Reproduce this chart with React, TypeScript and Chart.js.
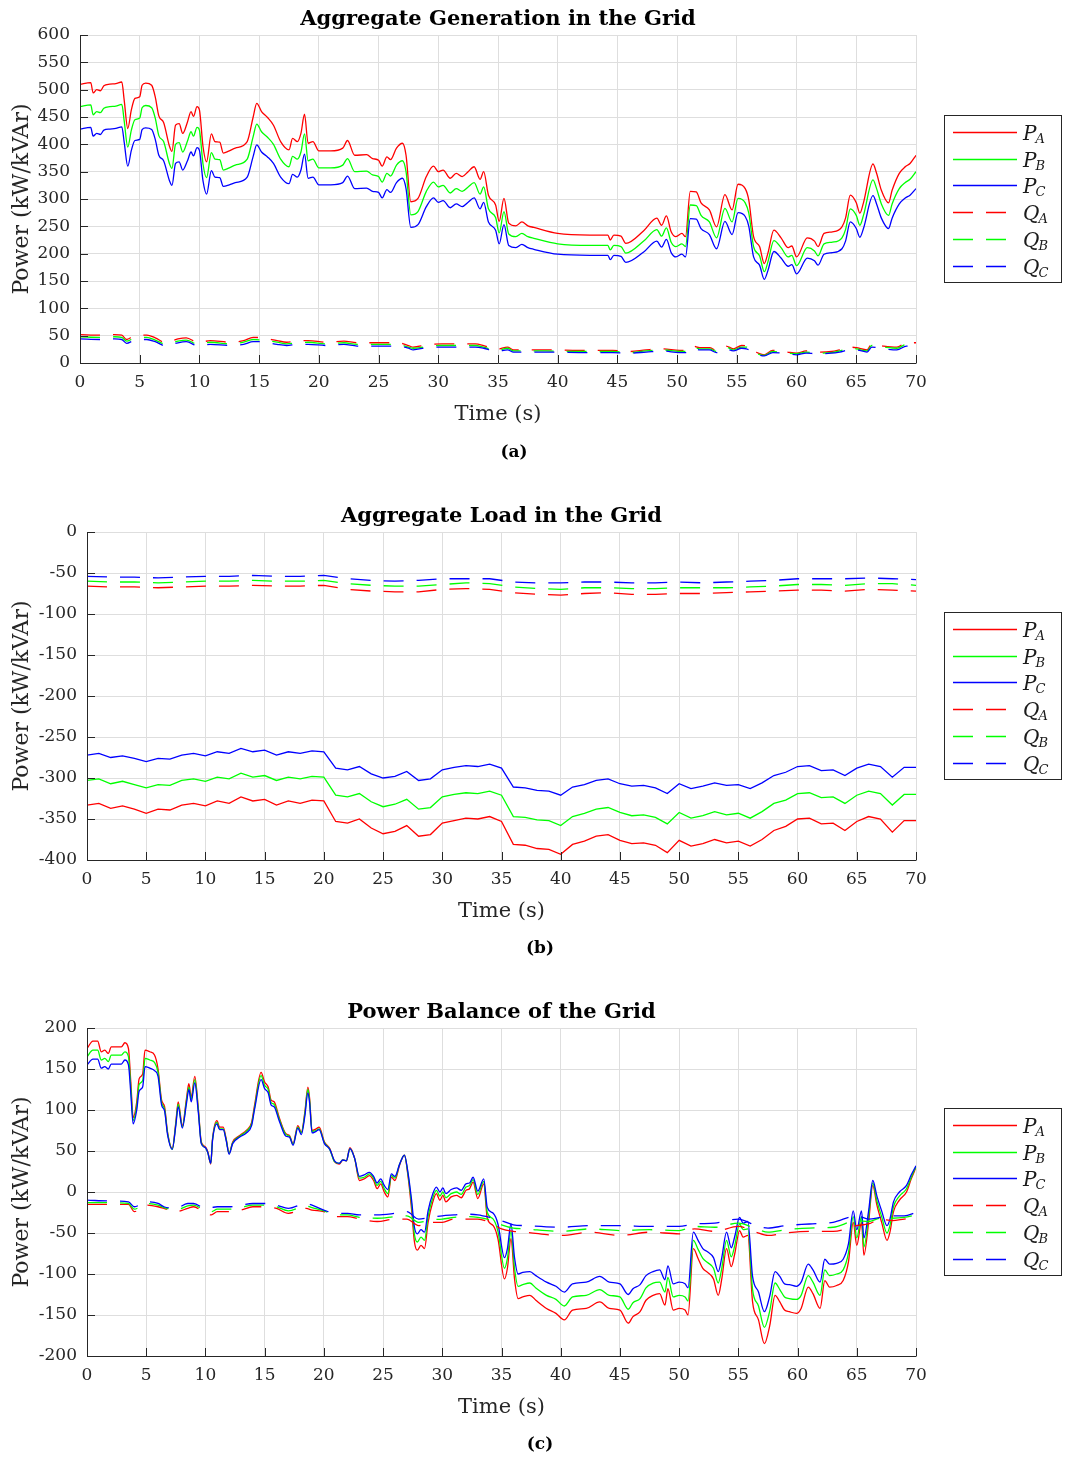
import React, { useEffect, useRef } from "react";
import { Chart, registerables } from "chart.js";

Chart.register(...registerables);

const FONT = "'DejaVu Serif', serif";
const RED = "#ff0000";
const GREEN = "#00ff00";
const BLUE = "#0000ff";

// ---------------- (a) Aggregate Generation ----------------
const genPTime = [
  0, 0.9, 1.1, 1.4, 1.7, 2, 2.5, 3, 3.5, 3.7,
  4.0, 4.3, 4.6, 5, 5.2, 5.5, 6, 6.3, 6.6, 7,
  7.5, 7.7, 8, 8.3, 8.6, 9, 9.3, 9.5, 9.8, 10,
  10.3, 10.6, 11, 11.3, 11.7, 12, 12.5, 13, 14, 14.5,
  14.8, 15.2, 15.7, 16.2, 16.8, 17.5, 17.8, 18.2, 18.5, 18.8,
  19.1, 19.5, 20, 21, 22, 22.4, 23, 24, 24.5, 25,
  25.3, 25.7, 26, 26.5, 27, 27.3, 27.7, 28.3, 29, 29.6,
  30, 30.4, 31, 31.5, 32, 32.5, 33, 33.5, 33.8, 34.2,
  34.8, 35.1, 35.5, 35.9, 36.5, 37, 37.5, 38, 40, 42.7,
  44.2, 44.4, 44.7, 45.3, 45.7, 47.2, 48.3, 48.7, 49.1, 49.5,
  49.9, 50.4, 50.7, 51.1, 51.6, 52, 52.7, 53.3, 54, 54.6,
  55.1, 55.7, 56, 56.4, 56.9, 57.3, 57.6, 58.1, 58.7, 59.3,
  59.6, 60, 60.9, 61.5, 61.8, 62.3, 63, 63.8, 64.1, 64.5,
  65, 65.3, 65.6, 66.4, 66.7, 67.1, 67.7, 68, 68.6, 69.1,
  69.5, 70,
];
const genPA = [
  510, 513, 494, 500, 498, 507, 510, 511, 514, 481,
  429, 463, 484, 487, 508, 512, 508, 487, 452, 440,
  396, 387, 435, 438, 420, 441, 460, 451, 469, 463,
  396, 368, 419, 405, 404, 384, 388, 393, 405, 450,
  475, 460, 449, 435, 405, 390, 411, 405, 420, 455,
  402, 405, 388, 388, 393, 407, 380, 381, 374, 371,
  360, 377, 372, 393, 402, 380, 295, 301, 341, 360,
  350, 353, 338, 347, 341, 350, 359, 336, 350, 307,
  289, 259, 301, 256, 251, 258, 251, 248, 237, 234,
  234, 225, 234, 232, 219, 242, 265, 252, 269, 240,
  231, 237, 231, 314, 313, 293, 280, 249, 308, 280,
  327, 319, 298, 231, 213, 182, 201, 243, 229, 211,
  214, 194, 229, 223, 213, 237, 240, 249, 265, 307,
  293, 274, 293, 364, 347, 316, 293, 316, 347, 359,
  365, 380,
];
const genPB = [
  469, 472, 454, 460, 458, 466, 469, 470, 473, 443,
  395, 426, 445, 448, 467, 471, 467, 448, 416, 405,
  364, 356, 400, 403, 386, 406, 423, 415, 431, 426,
  364, 339, 385, 373, 372, 353, 357, 362, 373, 414,
  437, 423, 413, 400, 373, 359, 378, 373, 386, 419,
  370, 373, 357, 357, 362, 374, 350, 351, 344, 341,
  331, 347, 342, 362, 370, 350, 271, 277, 314, 331,
  322, 325, 311, 319, 314, 322, 330, 309, 322, 282,
  266, 238, 277, 236, 231, 237, 231, 228, 218, 215,
  215, 207, 215, 213, 201, 223, 244, 232, 247, 221,
  213, 218, 213, 289, 288, 270, 258, 229, 283, 258,
  301, 293, 274, 213, 196, 167, 185, 224, 211, 194,
  197, 178, 211, 205, 196, 218, 221, 229, 244, 282,
  270, 252, 270, 335, 319, 291, 270, 291, 319, 330,
  336, 350,
];
const genPC = [
  428, 431, 415, 420, 418, 426, 428, 429, 432, 404,
  360, 389, 407, 409, 427, 430, 427, 409, 380, 370,
  333, 325, 365, 368, 353, 370, 386, 379, 394, 389,
  333, 309, 352, 340, 339, 323, 326, 330, 340, 378,
  399, 386, 377, 365, 340, 328, 345, 340, 353, 382,
  338, 340, 326, 326, 330, 342, 319, 320, 314, 312,
  302, 317, 312, 330, 338, 319, 248, 253, 286, 302,
  294, 297, 284, 291, 286, 294, 302, 282, 294, 258,
  243, 218, 253, 215, 211, 217, 211, 208, 199, 197,
  197, 189, 197, 195, 184, 203, 223, 212, 226, 202,
  194, 199, 194, 264, 263, 246, 235, 209, 259, 235,
  275, 268, 250, 194, 179, 153, 169, 204, 192, 177,
  180, 163, 192, 187, 179, 199, 202, 209, 223, 258,
  246, 230, 246, 306, 291, 265, 246, 265, 291, 302,
  307, 319,
];
const genQTime = [
  0, 1.7, 2.9, 3.5, 3.9, 4.5, 5.6, 6.3, 7.2, 8.2,
  8.9, 9.9, 10.9, 12.6, 13.7, 14.5, 15.2, 16.5, 17.3, 18.2,
  19.1, 20.7, 22.1, 23.2, 24.9, 26, 26.5, 27.5, 27.9, 29,
  30.3, 31.8, 33.1, 33.8, 34.9, 35.8, 36.3, 39, 41.8, 44.6,
  46, 47.4, 48.8, 50.2, 50.8, 51.3, 51.9, 52.7, 53.3, 54.1,
  54.7, 55.4, 55.8, 56.6, 57.3, 58, 59.2, 60, 60.8, 61.7,
  62.9, 63.6, 64.5, 65, 65.9, 66.3, 67.3, 68.4, 69.2, 70,
];
const genQA = [
  52, 51, 52, 51, 43, 49, 51, 46, 37, 44,
  46, 37, 41, 38, 41, 47, 46, 41, 38, 40,
  41, 38, 40, 37, 37, 37, 38, 32, 29, 33,
  35, 35, 35, 32, 25, 29, 24, 24, 23, 23,
  21, 24, 26, 23, 23, 31, 28, 28, 23, 31,
  26, 32, 31, 20, 15, 23, 20, 18, 22, 20,
  21, 24, 29, 28, 24, 35, 31, 29, 37, 37,
];
const genQB = [
  48, 47, 48, 47, 40, 45, 47, 42, 34, 40,
  42, 34, 38, 35, 38, 43, 42, 38, 35, 37,
  38, 35, 37, 34, 34, 34, 35, 29, 27, 30,
  32, 32, 32, 29, 23, 27, 22, 22, 21, 21,
  19, 22, 24, 21, 21, 29, 26, 26, 21, 29,
  24, 29, 29, 18, 14, 21, 18, 17, 20, 18,
  19, 22, 27, 26, 22, 32, 29, 27, 34, 34,
];
const genQC = [
  44, 43, 44, 43, 36, 41, 43, 39, 31, 37,
  39, 31, 34, 32, 34, 39, 39, 34, 32, 34,
  34, 32, 34, 31, 31, 31, 32, 27, 24, 28,
  29, 29, 29, 27, 21, 24, 20, 20, 19, 19,
  18, 20, 22, 19, 19, 26, 24, 24, 19, 26,
  22, 27, 26, 17, 13, 19, 17, 15, 18, 17,
  18, 20, 24, 24, 20, 29, 26, 24, 31, 31,
];

// ---------------- (b) Aggregate Load ----------------
const loadPTime = [
  0, 1, 2, 3, 4, 5, 6, 7, 8, 9,
  10, 11, 12, 13, 14, 15, 16, 17, 18, 19,
  20, 21, 22, 23, 24, 25, 26, 27, 28, 29,
  30, 31, 32, 33, 34, 35, 36, 37, 38, 39,
  40, 41, 42, 43, 44, 45, 46, 47, 48, 49,
  50, 51, 52, 53, 54, 55, 56, 57, 58, 59,
  60, 61, 62, 63, 64, 65, 66, 67, 68, 69,
  70,
];
const loadPA = [
  -333, -331, -337, -334, -338, -343, -338, -339, -333, -331,
  -334, -328, -331, -323, -328, -326, -333, -328, -331, -327,
  -328, -353, -355, -350, -361, -368, -365, -358, -371, -369,
  -355, -352, -349, -350, -347, -353, -381, -382, -386, -387,
  -393, -381, -377, -371, -369, -376, -380, -379, -382, -391,
  -376, -383, -380, -375, -379, -377, -383, -375, -364, -359,
  -350, -349, -356, -355, -364, -353, -347, -350, -366, -352,
  -352,
];
const loadPB = [
  -303, -301, -307, -304, -308, -312, -308, -309, -303, -301,
  -304, -299, -301, -294, -299, -297, -303, -299, -301, -298,
  -299, -321, -323, -319, -329, -335, -332, -326, -338, -336,
  -323, -320, -318, -319, -316, -321, -347, -348, -351, -352,
  -358, -347, -343, -338, -336, -342, -346, -345, -348, -356,
  -342, -349, -346, -341, -345, -343, -349, -341, -331, -327,
  -319, -318, -324, -323, -331, -321, -316, -319, -333, -320,
  -320,
];
const loadPC = [
  -272, -270, -275, -273, -276, -280, -276, -277, -272, -270,
  -273, -268, -270, -264, -268, -266, -272, -268, -270, -267,
  -268, -288, -290, -286, -295, -300, -298, -292, -303, -301,
  -290, -287, -285, -286, -283, -288, -311, -312, -315, -316,
  -321, -311, -308, -303, -301, -307, -310, -309, -312, -319,
  -307, -313, -310, -306, -309, -308, -313, -306, -297, -293,
  -286, -285, -291, -290, -297, -288, -283, -286, -299, -287,
  -287,
];
const loadQTime = [
  0, 2, 4, 6, 8, 10, 12, 14, 16, 18,
  20, 22, 24, 26, 28, 30, 32, 34, 36, 38,
  40, 42, 44, 46, 48, 50, 52, 54, 56, 58,
  60, 62, 64, 66, 68, 70,
];
const loadQA = [
  -66, -67, -67, -68, -67, -66, -66, -65, -66, -66,
  -65, -70, -72, -73, -73, -70, -69, -70, -74, -76,
  -77, -75, -74, -76, -76, -75, -75, -74, -73, -72,
  -71, -71, -72, -70, -71, -72,
];
const loadQB = [
  -60, -61, -61, -62, -61, -60, -60, -59, -60, -60,
  -59, -63, -65, -66, -66, -64, -62, -63, -67, -69,
  -70, -68, -68, -69, -69, -68, -68, -68, -67, -66,
  -64, -64, -65, -63, -63, -65,
];
const loadQC = [
  -54, -55, -55, -56, -55, -54, -54, -53, -54, -54,
  -53, -57, -59, -60, -59, -57, -57, -57, -61, -62,
  -62, -61, -61, -62, -62, -61, -62, -61, -60, -59,
  -57, -57, -57, -56, -57, -58,
];

// ---------------- (c) Power Balance ----------------
const balPTime = [
  0, 0.5, 0.9, 1.2, 1.5, 1.8, 2.05, 2.5, 2.9, 3.2,
  3.5, 3.7, 3.9, 4.2, 4.4, 4.7, 4.9, 5.3, 5.7, 6,
  6.3, 6.55, 6.8, 7.2, 7.5, 7.7, 8.05, 8.4, 8.6, 8.8,
  9.1, 9.4, 9.65, 10, 10.2, 10.45, 10.6, 10.97, 11.2, 11.5,
  11.75, 12, 12.3, 12.9, 13.45, 13.9, 14.15, 14.7, 15, 15.3,
  15.55, 15.8, 16.25, 16.8, 17.1, 17.4, 17.8, 18.1, 18.4, 18.65,
  18.8, 19, 19.35, 19.6, 20.05, 20.5, 20.9, 21.3, 21.6, 21.9,
  22.2, 22.6, 23, 23.4, 23.85, 24.2, 24.5, 24.8, 25.1, 25.4,
  25.7, 26, 26.4, 26.8, 27.1, 27.4, 27.65, 27.9, 28.2, 28.5,
  28.8, 29.2, 29.5, 29.8, 30.05, 30.3, 30.75, 31.2, 31.6, 32,
  32.3, 32.6, 33, 33.5, 33.8, 34.3, 34.7, 35.25, 35.5, 35.8,
  36.1, 36.4, 36.8, 37.4, 37.9, 38.8, 39.6, 40.3, 41, 42.15,
  43.3, 44.1, 45, 45.7, 46.1, 46.7, 47.2, 47.8, 48.35, 48.8,
  49.05, 49.5, 50, 50.5, 50.75, 51.2, 51.6, 52, 52.4, 52.9,
  53.3, 53.6, 54, 54.4, 54.7, 55.1, 55.4, 55.8, 56.2, 56.7,
  57.2, 57.65, 58.1, 58.5, 58.9, 59.3, 59.9, 60.3, 60.9, 61.3,
  61.9, 62.3, 62.7, 63.3, 63.85, 64.3, 64.7, 65, 65.4, 65.6,
  66, 66.35, 66.7, 67.1, 67.55, 67.8, 68.1, 68.6, 69.2, 69.6,
  70,
];
const balPA = [
  175, 184, 184, 171, 173, 169, 177, 177, 177, 182,
  175, 134, 91, 110, 138, 144, 173, 171, 167, 150,
  112, 104, 73, 53, 85, 110, 81, 114, 132, 116,
  141, 102, 61, 55, 49, 34, 65, 87, 79, 79,
  65, 47, 61, 69, 75, 85, 106, 146, 134, 128,
  112, 110, 90, 71, 69, 59, 81, 73, 98, 128,
  114, 75, 77, 79, 61, 53, 37, 34, 39, 38,
  54, 41, 14, 16, 20, 14, 4, 10, 0, -6,
  18, 14, 33, 45, 20, -20, -61, -71, -65, -69,
  -37, -12, -2, -10, -4, -12, -6, -4, -7, 2,
  4, 12, -8, 10, -32, -41, -57, -106, -93, -57,
  -106, -130, -128, -126, -132, -142, -148, -156, -144, -142,
  -134, -142, -144, -160, -152, -146, -132, -126, -124, -138,
  -118, -144, -142, -144, -150, -69, -81, -93, -98, -106,
  -126, -106, -69, -91, -75, -47, -55, -53, -134, -156,
  -185, -163, -126, -134, -144, -146, -148, -142, -116, -124,
  -142, -108, -116, -114, -108, -85, -37, -65, -37, -77,
  -37, 8, -16, -37, -59, -49, -24, -10, 0, 16,
  30,
];
const balPB = [
  165, 173, 173, 161, 163, 159, 167, 167, 167, 171,
  165, 127, 87, 105, 131, 136, 163, 161, 158, 146,
  109, 101, 72, 52, 83, 107, 79, 111, 128, 113,
  137, 100, 60, 54, 48, 35, 64, 85, 77, 77,
  64, 47, 60, 68, 74, 83, 103, 142, 130, 125,
  109, 107, 88, 70, 68, 58, 79, 72, 96, 125,
  111, 74, 75, 77, 60, 52, 37, 35, 39, 38,
  53, 41, 17, 18, 22, 17, 8, 13, 4, -2,
  20, 17, 34, 45, 22, -14, -52, -61, -55, -59,
  -30, -7, 2, -5, 0, -7, -2, 0, -3, 6,
  8, 15, -3, 13, -25, -33, -48, -93, -81, -48,
  -93, -115, -113, -111, -117, -126, -131, -139, -128, -126,
  -119, -126, -128, -143, -135, -130, -117, -111, -110, -122,
  -104, -128, -126, -128, -133, -59, -70, -81, -86, -93,
  -111, -93, -59, -79, -65, -39, -46, -45, -119, -139,
  -165, -145, -111, -119, -128, -130, -131, -126, -102, -110,
  -126, -95, -102, -100, -95, -74, -30, -56, -30, -67,
  -30, 11, -11, -30, -50, -41, -18, -5, 4, 18,
  31,
];
const balPC = [
  155, 162, 162, 151, 153, 150, 156, 156, 156, 161,
  155, 120, 83, 100, 123, 128, 153, 151, 148, 141,
  106, 99, 70, 52, 81, 104, 78, 108, 125, 110,
  133, 97, 59, 54, 48, 35, 63, 83, 76, 76,
  63, 46, 59, 67, 72, 81, 101, 137, 126, 121,
  106, 104, 86, 68, 67, 57, 78, 70, 93, 121,
  108, 72, 74, 76, 59, 52, 38, 35, 39, 38,
  53, 41, 19, 21, 24, 19, 11, 16, 8, 3,
  22, 19, 34, 45, 24, -9, -43, -51, -46, -49,
  -23, -2, 6, 0, 5, -2, 3, 5, 2, 10,
  11, 18, 1, 16, -19, -26, -39, -80, -69, -39,
  -80, -100, -98, -97, -102, -110, -115, -122, -112, -110,
  -103, -110, -112, -125, -118, -113, -102, -97, -95, -107,
  -90, -112, -110, -112, -117, -49, -59, -69, -73, -80,
  -97, -80, -49, -68, -54, -31, -38, -36, -103, -122,
  -146, -127, -97, -103, -112, -113, -115, -110, -88, -95,
  -110, -82, -88, -87, -82, -63, -23, -46, -23, -56,
  -23, 14, -5, -23, -41, -33, -12, 0, 8, 21,
  32,
];
const balQTime = [
  0, 2, 3.5, 4, 5, 6, 6.5, 7.5, 8.5, 9,
  10, 10.5, 11, 12, 13, 14, 15, 16, 17, 18.5,
  19, 20, 21, 22, 23, 24.5, 26, 27, 28, 29,
  30, 31, 32, 33, 34, 35, 36, 37, 40, 42.5,
  45, 47.5, 50, 51.3, 53, 55, 56.5, 57.5, 59, 61,
  63, 65, 66, 67, 68, 69, 70,
];
const balQA = [
  -15, -15, -15, -24, -16, -18, -20, -24, -20, -18,
  -26, -28, -24, -24, -22, -18, -18, -20, -26, -20,
  -22, -24, -30, -30, -33, -36, -33, -33, -41, -37,
  -37, -33, -33, -33, -37, -45, -48, -49, -53, -49,
  -53, -49, -51, -45, -48, -42, -49, -53, -50, -48,
  -48, -41, -39, -33, -35, -33, -31,
];
const balQB = [
  -13, -13, -14, -21, -14, -16, -19, -22, -17, -16,
  -23, -24, -21, -21, -19, -16, -16, -18, -23, -17,
  -19, -23, -28, -28, -31, -32, -30, -29, -37, -34,
  -33, -31, -30, -31, -34, -40, -44, -45, -48, -45,
  -47, -46, -47, -42, -43, -38, -45, -49, -46, -44,
  -43, -35, -36, -32, -32, -31, -28,
];
const balQC = [
  -10, -11, -12, -18, -12, -14, -18, -20, -14, -14,
  -20, -19, -18, -18, -16, -14, -14, -16, -20, -14,
  -16, -22, -26, -26, -28, -28, -26, -24, -33, -31,
  -29, -28, -27, -28, -31, -35, -40, -41, -43, -41,
  -41, -42, -42, -39, -38, -33, -41, -44, -41, -39,
  -37, -29, -33, -31, -29, -29, -25,
];

type Series = {
  name: string;
  sub: string;
  t: number[];
  v: number[];
  color: string;
  dashed: boolean;
};

function makeSeries(
  pt: number[], pa: number[], pb: number[], pc: number[],
  qt: number[], qa: number[], qb: number[], qc: number[]
): Series[] {
  return [
    { name: "P", sub: "A", t: pt, v: pa, color: RED, dashed: false },
    { name: "P", sub: "B", t: pt, v: pb, color: GREEN, dashed: false },
    { name: "P", sub: "C", t: pt, v: pc, color: BLUE, dashed: false },
    { name: "Q", sub: "A", t: qt, v: qa, color: RED, dashed: true },
    { name: "Q", sub: "B", t: qt, v: qb, color: GREEN, dashed: true },
    { name: "Q", sub: "C", t: qt, v: qc, color: BLUE, dashed: true },
  ];
}

const DASH = [20, 13];
const PLOT_TOP = 35;
const PLOT_BOTTOM = 363;
const PLOT_RIGHT = 916;
const W = 1065;

type PanelProps = {
  title: string;
  caption: string;
  captionX: number;
  captionY: number;
  yMin: number;
  yMax: number;
  plotLeft: number;
  height: number;
  top: number;
  smooth: boolean;
  series: Series[];
};

function Panel(props: PanelProps) {
  const ref = useRef<HTMLCanvasElement | null>(null);
  useEffect(() => {
    const canvas = ref.current;
    if (!canvas) return;
    const { title, caption, captionX, captionY, yMin, yMax, plotLeft, height, series, smooth } = props;

    const overlay = {
      id: "overlay",
      afterDraw(chart: any) {
        const ctx: CanvasRenderingContext2D = chart.ctx;
        const a = chart.chartArea;
        const xs = chart.scales.x;
        const ys = chart.scales.y;
        ctx.save();
        // axes + inward ticks
        ctx.strokeStyle = "#262626";
        ctx.lineWidth = 1;
        ctx.setLineDash([]);
        ctx.beginPath();
        ctx.moveTo(a.left + 0.5, a.top);
        ctx.lineTo(a.left + 0.5, a.bottom + 0.5);
        ctx.lineTo(a.right + 0.5, a.bottom + 0.5);
        ys.ticks.forEach((t: any) => {
          const y = Math.round(ys.getPixelForValue(t.value)) + 0.5;
          ctx.moveTo(a.left, y);
          ctx.lineTo(a.left + 8, y);
        });
        xs.ticks.forEach((t: any) => {
          const x = Math.round(xs.getPixelForValue(t.value)) + 0.5;
          ctx.moveTo(x, a.bottom);
          ctx.lineTo(x, a.bottom - 8);
        });
        ctx.stroke();

        const cx = (a.left + a.right) / 2;
        // title
        ctx.fillStyle = "#000";
        ctx.textAlign = "center";
        ctx.textBaseline = "alphabetic";
        ctx.font = `bold 21px ${FONT}`;
        ctx.fillText(title, cx, 25);
        // x-axis label
        ctx.fillStyle = "#262626";
        ctx.font = `21px ${FONT}`;
        ctx.fillText("Time (s)", cx, 420);
        // y-axis label
        ctx.save();
        ctx.translate(28, (a.top + a.bottom) / 2);
        ctx.rotate(-Math.PI / 2);
        ctx.font = `22px ${FONT}`;
        ctx.fillText("Power (kW/kVAr)", 0, 0);
        ctx.restore();
        // caption
        ctx.fillStyle = "#000";
        ctx.font = `bold 17px ${FONT}`;
        ctx.fillText(caption, captionX, captionY);

        // legend
        const bx = 944, by = 115, bw = 117, bh = 168;
        ctx.fillStyle = "#fff";
        ctx.fillRect(bx, by, bw, bh);
        ctx.strokeStyle = "#262626";
        ctx.lineWidth = 1;
        ctx.strokeRect(bx + 0.5, by + 0.5, bw, bh - 1);
        series.forEach((s, i) => {
          const y = Math.round(132 + i * 26.7) + 0.5;
          ctx.strokeStyle = s.color;
          ctx.lineWidth = 1.3;
          ctx.setLineDash(s.dashed ? DASH : []);
          ctx.beginPath();
          ctx.moveTo(953, y);
          ctx.lineTo(1017, y);
          ctx.stroke();
          ctx.setLineDash([]);
          ctx.fillStyle = "#1a1a1a";
          ctx.textAlign = "left";
          ctx.font = `italic 20px ${FONT}`;
          ctx.fillText(s.name, 1023, y + 7);
          const w = ctx.measureText(s.name).width;
          ctx.font = `italic 13px ${FONT}`;
          ctx.fillText(s.sub, 1023 + w - 1, y + 10);
        });
        ctx.restore();
      },
    };

    const chart = new Chart(canvas, {
      type: "line",
      data: {
        datasets: series.map((s, i) => ({
          label: s.name + s.sub,
          data: s.t.map((x, j) => ({ x, y: s.v[j] })),
          borderColor: s.color,
          backgroundColor: s.color,
          borderWidth: 1.3,
          borderDash: s.dashed ? DASH : [],
          pointRadius: 0,
          fill: false,
          tension: 0,
          cubicInterpolationMode: smooth ? "monotone" : "default",
          order: series.length - i,
        })),
      },
      options: {
        responsive: false,
        animation: false,
        events: [],
        layout: { padding: { left: 0, right: W - PLOT_RIGHT, top: PLOT_TOP, bottom: 0 } },
        plugins: {
          legend: { display: false },
          title: { display: false },
          tooltip: { enabled: false },
        },
        scales: {
          x: {
            type: "linear",
            min: 0,
            max: 70,
            ticks: {
              stepSize: 5,
              autoSkip: false,
              maxRotation: 0,
              padding: 9,
              color: "#262626",
              font: { family: FONT, size: 17 },
            },
            grid: { color: "#dedede", drawTicks: false, lineWidth: 1 },
            border: { display: false },
            afterFit: (sc: any) => {
              sc.height = height - PLOT_BOTTOM;
              sc.paddingLeft = 0;
              sc.paddingRight = 0;
            },
          },
          y: {
            type: "linear",
            min: yMin,
            max: yMax,
            ticks: {
              stepSize: 50,
              autoSkip: false,
              padding: 10,
              color: "#262626",
              font: { family: FONT, size: 17 },
            },
            grid: { color: "#dedede", drawTicks: false, lineWidth: 1 },
            border: { display: false },
            afterFit: (sc: any) => {
              sc.width = plotLeft;
              sc.paddingTop = 0;
              sc.paddingBottom = 0;
            },
          },
        },
      } as any,
      plugins: [overlay],
    });
    return () => chart.destroy();
  }, []);

  return (
    <canvas
      ref={ref}
      width={W}
      height={props.height}
      style={{ position: "absolute", left: 0, top: props.top, display: "block" }}
    />
  );
}

export default function App() {
  const genSeries = makeSeries(genPTime, genPA, genPB, genPC, genQTime, genQA, genQB, genQC);
  const loadSeries = makeSeries(loadPTime, loadPA, loadPB, loadPC, loadQTime, loadQA, loadQB, loadQC);
  const balSeries = makeSeries(balPTime, balPA, balPB, balPC, balQTime, balQA, balQB, balQC);
  return (
    <div style={{ position: "absolute", left: 0, top: 0, width: 1065, height: 1461, background: "#fff" }}>
      <Panel
        title="Aggregate Generation in the Grid"
        caption="(a)"
        captionX={514}
        captionY={457}
        yMin={0}
        yMax={600}
        plotLeft={80}
        height={497}
        top={0}
        smooth={true}
        series={genSeries}
      />
      <Panel
        title="Aggregate Load in the Grid"
        caption="(b)"
        captionX={540}
        captionY={456}
        yMin={-400}
        yMax={0}
        plotLeft={87}
        height={496}
        top={497}
        smooth={false}
        series={loadSeries}
      />
      <Panel
        title="Power Balance of the Grid"
        caption="(c)"
        captionX={540}
        captionY={456}
        yMin={-200}
        yMax={200}
        plotLeft={87}
        height={468}
        top={993}
        smooth={true}
        series={balSeries}
      />
    </div>
  );
}
